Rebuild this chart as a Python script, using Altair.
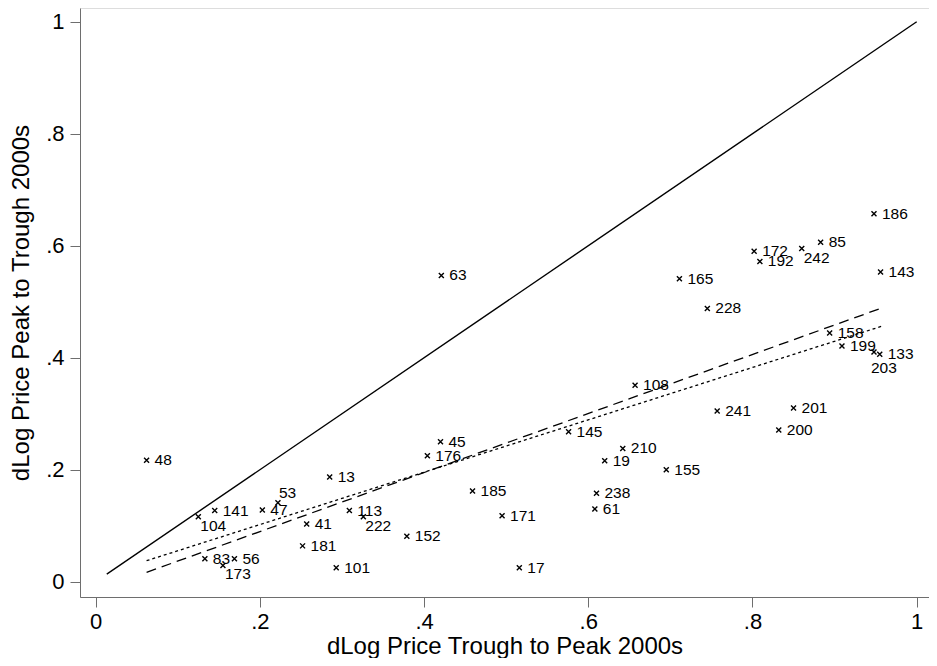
import altair as alt
import pandas as pd

# ---- data ----
ids = ["48", "104", "141", "47", "53", "83", "56", "173", "13", "41",
       "181", "101", "113", "222", "152", "45", "176", "145", "210", "19",
       "155", "185", "238", "61", "171", "17", "186", "85", "242", "172",
       "192", "143", "165", "228", "158", "199", "133", "203", "241", "201",
       "200", "108", "63"]
trough_to_peak = [0.062, 0.125, 0.145, 0.203, 0.222, 0.133, 0.169, 0.155, 0.285, 0.257,
                  0.252, 0.293, 0.309, 0.326, 0.379, 0.420, 0.404, 0.576, 0.642, 0.620,
                  0.695, 0.459, 0.610, 0.608, 0.495, 0.516, 0.948, 0.883, 0.860, 0.802,
                  0.809, 0.956, 0.711, 0.745, 0.894, 0.909, 0.955, 0.948, 0.757, 0.850,
                  0.832, 0.657, 0.421]
peak_to_trough = [0.217, 0.116, 0.127, 0.128, 0.141, 0.041, 0.041, 0.029, 0.187, 0.103,
                  0.064, 0.025, 0.127, 0.116, 0.081, 0.250, 0.225, 0.268, 0.238, 0.216,
                  0.200, 0.162, 0.158, 0.130, 0.118, 0.025, 0.657, 0.606, 0.595, 0.590,
                  0.572, 0.553, 0.541, 0.488, 0.444, 0.421, 0.406, 0.410, 0.305, 0.310,
                  0.271, 0.351, 0.547]

labels_below = ["104", "173", "222", "242"]
labels_above = ["53"]
labels_under = ["203"]

diag_x = [0.0135, 1.0]
diag_y = [0.0135, 1.0]
fit1_x = [0.062, 0.956]
fit1_y = [0.0168, 0.488]
fit2_x = [0.062, 0.957]
fit2_y = [0.0375, 0.456]

x_ticks = [0, 0.2, 0.4, 0.6, 0.8, 1]
y_ticks = [0, 0.2, 0.4, 0.6, 0.8, 1]

x_title = "dLog Price Trough to Peak 2000s"
y_title = "dLog Price Peak to Trough 2000s"

# ---- build tables ----
def place(i):
    if i in labels_below:
        return "below"
    if i in labels_above:
        return "above"
    if i in labels_under:
        return "under"
    return "right"

pts = pd.DataFrame({"id": ids, "x": trough_to_peak, "y": peak_to_trough})
pts["pos"] = [place(i) for i in ids]

diag = pd.DataFrame({"x": diag_x, "y": diag_y})
fit1 = pd.DataFrame({"x": fit1_x, "y": fit1_y})
fit2 = pd.DataFrame({"x": fit2_x, "y": fit2_y})

FONT = "Liberation Sans"
label_expr = ("datum.value == 0 ? '0' : datum.value == 1 ? '1' : "
              "replace(format(datum.value, '.1f'), '0.', '.')")

xscale = alt.Scale(domain=[-0.0191, 1.015], nice=False, zero=False)
yscale = alt.Scale(domain=[-0.0273, 1.0245], nice=False, zero=False)

xaxis = alt.Axis(values=x_ticks, labelExpr=label_expr, title=x_title, grid=False,
                 tickSize=10, labelPadding=4, titlePadding=2,
                 labelFontSize=22, titleFontSize=24, labelFont=FONT, titleFont=FONT,
                 labelColor="black", titleColor="black", titleFontWeight="normal",
                 domainColor="#6e6e6e", tickColor="#6e6e6e", labelFlush=False)
yaxis = alt.Axis(values=y_ticks, labelExpr=label_expr, title=y_title, grid=False,
                 tickSize=10, labelPadding=6, titlePadding=12,
                 labelFontSize=22, titleFontSize=24, labelFont=FONT, titleFont=FONT,
                 labelColor="black", titleColor="black", titleFontWeight="normal",
                 domainColor="#6e6e6e", tickColor="#6e6e6e", labelFlush=False)

X = alt.X("x:Q", scale=xscale, axis=xaxis)
Y = alt.Y("y:Q", scale=yscale, axis=yaxis)

diag_line = alt.Chart(diag).mark_line(color="black", strokeWidth=1.4).encode(x=X, y=Y)
fit1_line = alt.Chart(fit1).mark_line(color="black", strokeWidth=1.3,
                                      strokeDash=[10, 6]).encode(x="x:Q", y="y:Q")
fit2_line = alt.Chart(fit2).mark_line(color="black", strokeWidth=1.3,
                                      strokeDash=[3, 3]).encode(x="x:Q", y="y:Q")

cross = "M-1,-1L1,1M-1,1L1,-1"
markers = alt.Chart(pts).mark_point(shape=cross, size=25, filled=False,
                                    color="black", strokeWidth=1.4, opacity=1).encode(
    x="x:Q", y="y:Q")

base = alt.Chart(pts)
txt_kw = dict(font=FONT, fontSize=15.5, color="black")
t_right = base.transform_filter(alt.datum.pos == "right").mark_text(
    align="left", baseline="middle", dx=8, dy=0, **txt_kw).encode(x="x:Q", y="y:Q", text="id:N")
t_below = base.transform_filter(alt.datum.pos == "below").mark_text(
    align="left", baseline="middle", dx=2, dy=9, **txt_kw).encode(x="x:Q", y="y:Q", text="id:N")
t_above = base.transform_filter(alt.datum.pos == "above").mark_text(
    align="left", baseline="middle", dx=1, dy=-10, **txt_kw).encode(x="x:Q", y="y:Q", text="id:N")
t_under = base.transform_filter(alt.datum.pos == "under").mark_text(
    align="left", baseline="middle", dx=-3, dy=16, **txt_kw).encode(x="x:Q", y="y:Q", text="id:N")

chart = alt.layer(diag_line, fit1_line, fit2_line, markers,
                  t_right, t_below, t_above, t_under).properties(
    width=849, height=589,
    autosize=alt.AutoSizeParams(type="none"),
    padding={"left": 72, "top": 0, "right": 0, "bottom": 61},
).configure_view(stroke=None).configure(background="white")

chart.save("out.html", embed_options={"renderer": "svg", "actions": False})
